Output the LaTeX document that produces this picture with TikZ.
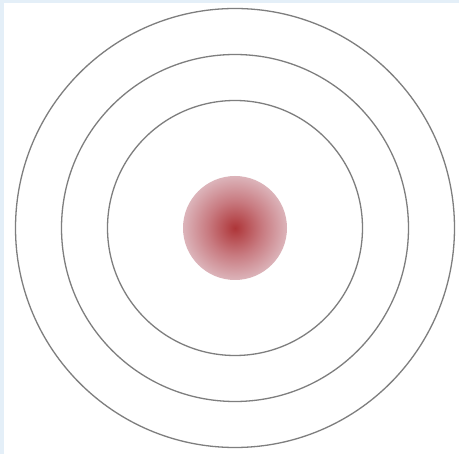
\documentclass[tikz,border=0pt]{standalone}
\definecolor{framebg}{HTML}{E4EFF8}
\definecolor{ringgray}{HTML}{7E7E7E}
\definecolor{dotin}{HTML}{AE3538}
\definecolor{dotmid}{HTML}{C87A80}
\definecolor{dotout}{HTML}{DCB4BA}
\pgfdeclareradialshading{dotshade}{\pgfpoint{0bp}{0bp}}{color(0bp)=(dotin); color(13bp)=(dotmid); color(25bp)=(dotout); color(50bp)=(dotout)}
\tikzset{ring/.style={draw=ringgray, line width=1.3pt}}
\begin{document}
\begin{tikzpicture}[x=1pt,y=-1pt]
\useasboundingbox (0,0) rectangle (459,454);
\fill[framebg] (0,0) rectangle (459,454);
\fill[white] (4,3) rectangle (459,454);
\coordinate (c) at (235,228);
\draw[ring] (c) circle[radius=127.5];
\draw[ring] (c) circle[radius=173.5];
\draw[ring] (c) circle[radius=219.5];
\shade[shading=dotshade] (c) circle[radius=52];
\end{tikzpicture}
\end{document}
